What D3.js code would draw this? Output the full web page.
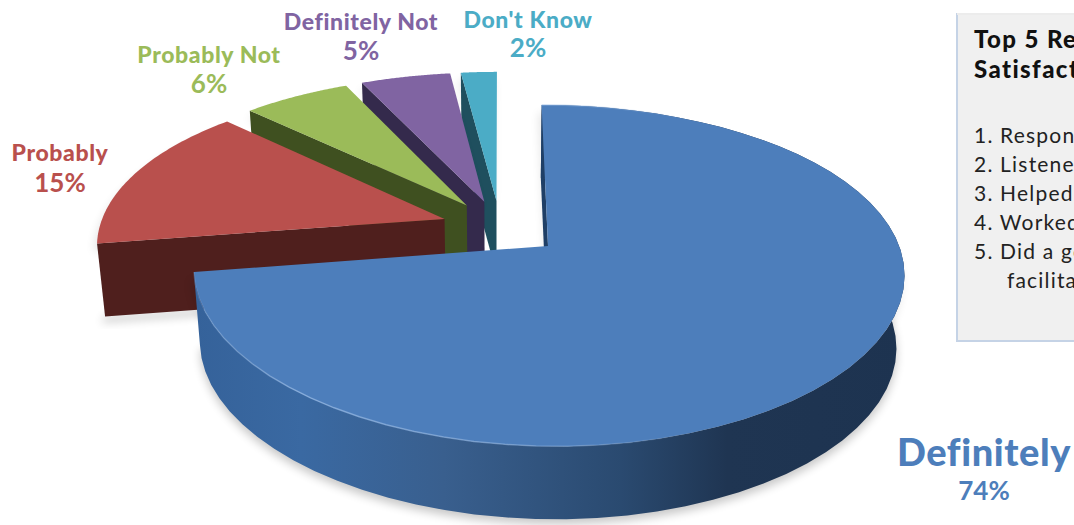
<!DOCTYPE html>
<html>
<head>
<meta charset="utf-8">
<script src="https://cdn.jsdelivr.net/npm/d3@7"></script>
<style>
html, body { margin: 0; padding: 0; background: #fff; overflow: hidden; }
text { font-family: Lato, sans-serif; }
</style>
</head>
<body>
<svg id="chart" width="1074" height="525"></svg>
<script>
// chart values
var categories = ["Definitely", "Probably", "Probably Not", "Definitely Not", "Don't Know"];
var values = [74, 15, 6, 5, 2];
var topColors = ["#4d7ebb", "#b9504d", "#9bbb59", "#8064a2", "#4bacc6"];
var wallColors = ["#1f3f66", "#4f1f1d", "#3f5020", "#342a4c", "#1f4f5e"];
var labelX = [984, 60, 209, 361, 528];
var labelY = [466, 161, 63, 30, 28];
var labelSize = [38, 23, 23, 23, 23];
var pctSize = [26, 26, 26, 26, 26];
var pctGap = [34, 31, 30, 30, 29];
var boxTitle = ["Top 5 Reasons for", "Satisfaction"];
var boxList = ["1. Responded", "2. Listened", "3. Helped", "4. Worked", "5. Did a good job", "     facilitating"];

var svg = d3.select("#chart");
var defs = svg.append("defs");

// projection of the tilted pie
var cx = 500, cy = 227, A = 345, B = 159, kx = 0.15, ky = 0.17, depth = 73;
var explode = [0.18, 0.17, 0.17, 0.17, 0.17];
var shrink = 0.98;

function project(X, Z, low) {
	var x = cx + A * X / (1 - kx * Z);
	var y = cy + B * Z / (1 - ky * Z);
	if (low) {
		x = cx + (x - cx) * shrink;
		y = y + depth;
	}
	return [x, y];
}

var slices = d3.pie().sort(null)(values);
var line = d3.line();

function sliceCenter(d) {
	var mid = (d.startAngle + d.endAngle) / 2;
	var e = explode[d.index];
	return [e * Math.sin(mid), -e * Math.cos(mid)];
}
function rimPoint(d, a, low) {
	var c = sliceCenter(d);
	return project(c[0] + Math.sin(a), c[1] - Math.cos(a), low);
}
function apex(d, low) {
	var c = sliceCenter(d);
	return project(c[0], c[1], low);
}
function rim(d, low) {
	return d3.range(0, 61).map(function(i) {
		return rimPoint(d, d.startAngle + (d.endAngle - d.startAngle) * i / 60, low);
	});
}

defs.append("filter").attr("id", "blur").attr("x", "-20%").attr("y", "-20%")
	.attr("width", "140%").attr("height", "140%")
	.append("feGaussianBlur").attr("stdDeviation", 5);

function gradient(id, stops) {
	var grad = defs.append("linearGradient").attr("id", id)
		.attr("gradientUnits", "userSpaceOnUse")
		.attr("x1", 195).attr("x2", 905).attr("y1", 0).attr("y2", 0);
	grad.selectAll("stop").data(stops).enter().append("stop")
		.attr("offset", function(d) { return d[0]; })
		.attr("stop-color", function(d) { return d[1]; })
		.attr("stop-opacity", function(d) { return d[2]; });
}
gradient("side", [[0, "#35629a", 1], [0.15, "#3a69a2", 1], [0.35, "#395f8e", 1], [0.6, "#2a4a70", 1], [0.75, "#1f3552", 1], [1, "#1d3350", 1]]);
gradient("bevel", [[0, "#8fb4e2", 0.2], [0.15, "#8fb4e2", 0.8], [0.5, "#8fb4e2", 0.5], [0.7, "#8fb4e2", 0], [1, "#8fb4e2", 0]]);

// back to front: Don't Know first, Definitely last
var order = [4, 3, 2, 1, 0];
order.forEach(function(i) {
	var d = slices[i];
	var g = svg.append("g").attr("class", "slice");
	var face = [apex(d)].concat(rim(d, false));
	var wall = [apex(d), rimPoint(d, d.startAngle), rimPoint(d, d.startAngle, true), apex(d, true)];

	// soft shadow on the page
	g.append("path")
		.attr("d", line(face) + "Z")
		.attr("transform", "translate(-3,8)")
		.attr("fill", "#000").attr("opacity", 0.1).attr("filter", "url(#blur)");

	if (i == 1) {
		var a = apex(d, true), b = rimPoint(d, d.startAngle, true);
		g.append("path")
			.attr("d", line([a, b, [b[0] - 4, b[1] + 6], [a[0], a[1] + 6]]) + "Z")
			.attr("fill", "#000").attr("opacity", 0.22).attr("filter", "url(#blur)");
	}

	// curved outer wall, only the big slice shows it
	if (i == 0) {
		var top = rim(d, false), low = rim(d, true).reverse();
		// shadow only from the near part of the rim, the chord stays under the top face
		g.append("path").attr("d", line(low.slice(0, 50)) + "Z")
			.attr("transform", "translate(0,5)")
			.attr("fill", "#000").attr("opacity", 0.22).attr("filter", "url(#blur)");
		g.append("path").attr("d", line(top.concat(low)) + "Z").attr("fill", "url(#side)");
	}

	// radial wall on the start edge
	g.append("path")
		.attr("d", line(wall) + "Z")
		.attr("fill", wallColors[i]);

	// top face
	g.append("path")
		.attr("d", line(face) + "Z")
		.attr("fill", topColors[i]);

	// light bevel along the rim of the big slice
	if (i == 0) {
		g.append("path")
			.attr("d", line(rim(d, false)))
			.attr("fill", "none")
			.attr("stroke", "url(#bevel)")
			.attr("stroke-width", 1.5);
	}
});

// labels
var fmt = function(v) { return v + "%"; };
var labels = svg.append("g").selectAll("g").data(slices).enter().append("g");
labels.append("text")
	.attr("x", function(d, i) { return labelX[i]; })
	.attr("y", function(d, i) { return labelY[i]; })
	.attr("text-anchor", "middle")
	.attr("font-weight", 900)
	.attr("letter-spacing", 0.6)
	.attr("font-size", function(d, i) { return labelSize[i]; })
	.attr("fill", function(d, i) { return topColors[i]; })
	.text(function(d, i) { return categories[i]; });
labels.append("text")
	.attr("x", function(d, i) { return labelX[i]; })
	.attr("y", function(d, i) { return labelY[i] + pctGap[i]; })
	.attr("text-anchor", "middle")
	.attr("font-weight", 700)
	.attr("font-size", function(d, i) { return pctSize[i]; })
	.attr("fill", function(d, i) { return topColors[i]; })
	.text(function(d) { return fmt(d.value); });

// text box, runs off the right side of the page as in the reference
var box = svg.append("g");
box.append("rect").attr("x", 957).attr("y", 14).attr("width", 140).attr("height", 327)
	.attr("fill", "#f0f0f0");
box.append("path").attr("d", "M1074,14H957V341H1074")
	.attr("fill", "none").attr("stroke", "#c5d3e6").attr("stroke-width", 2);
box.append("path").attr("d", "M1074,14H957")
	.attr("fill", "none").attr("stroke", "#ececec").attr("stroke-width", 2);
box.selectAll("text.title").data(boxTitle).enter().append("text")
	.attr("class", "title")
	.attr("x", 974)
	.attr("y", function(d, i) { return 48 + i * 30; })
	.attr("font-weight", 900).attr("font-size", 24).attr("letter-spacing", 1.4).attr("fill", "#111")
	.text(function(d) { return d; });
box.selectAll("text.item").data(boxList).enter().append("text")
	.attr("class", "item")
	.attr("x", 974)
	.attr("y", function(d, i) { return 143 + i * 29; })
	.style("white-space", "pre")
	.attr("font-size", 21).attr("letter-spacing", 1.2).attr("fill", "#222")
	.text(function(d) { return d; });
</script>
</body>
</html>
